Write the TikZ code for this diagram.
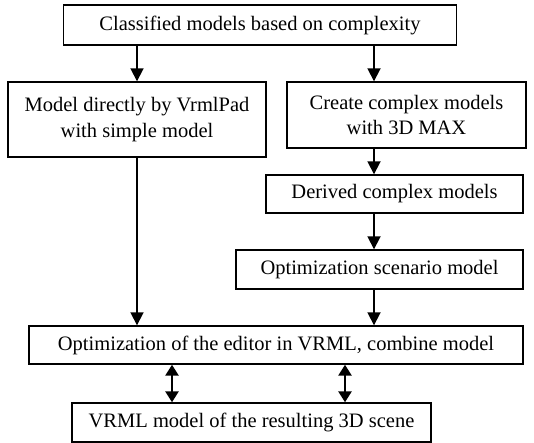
\documentclass[tikz,border=0pt]{standalone}
\usepackage{fontspec}
\setmainfont{Liberation Serif}
\usetikzlibrary{arrows.meta}
\begin{document}
\begin{tikzpicture}[x=1pt,y=1pt,
  box/.style={draw,line width=1.4pt,inner sep=0pt,align=center,font=\fontsize{20.5}{25.5}\selectfont},
  arr/.style={line width=1.8pt,-{Triangle[length=13pt,width=13pt]}},
  darr/.style={line width=2.6pt,{Triangle[length=11pt,width=13pt]}-{Triangle[length=11pt,width=13pt]}}]
\useasboundingbox (0,0) rectangle (534,-443);
\node[box,minimum width=393,minimum height=40] (top) at (260,-25) {Classified models based on complexity};
\node[box,minimum width=258,minimum height=75] (lbox) at (137,-119.5) {Model directly by VrmlPad\\with simple model};
\node[box,minimum width=239,minimum height=66] (cbox) at (406.5,-115) {Create complex models\\with 3D MAX};
\node[box,minimum width=257,minimum height=38] (dbox) at (394.5,-194) {Derived complex models};
\node[box,minimum width=287,minimum height=39] (obox) at (379.5,-269.5) {Optimization scenario model};
\node[box,minimum width=494,minimum height=38] (big) at (276,-345) {Optimization of the editor in VRML, combine model};
\node[box,minimum width=359,minimum height=39] (res) at (251.5,-422.5) {VRML model of the resulting 3D scene};
\coordinate (xl) at (137,0);
\coordinate (xr) at (374,0);
\coordinate (d1) at (172,0);
\coordinate (d2) at (345,0);
\draw[arr] (top.south -| xl) -- (lbox.north -| xl);
\draw[arr] (top.south -| xr) -- (cbox.north -| xr);
\draw[arr] (cbox.south -| xr) -- (dbox.north -| xr);
\draw[arr] (dbox.south -| xr) -- (obox.north -| xr);
\draw[arr] (obox.south -| xr) -- (big.north -| xr);
\draw[arr] (lbox.south -| xl) -- (big.north -| xl);
\draw[darr] (big.south -| d1) -- (res.north -| d1);
\draw[darr] (big.south -| d2) -- (res.north -| d2);
\end{tikzpicture}
\end{document}
